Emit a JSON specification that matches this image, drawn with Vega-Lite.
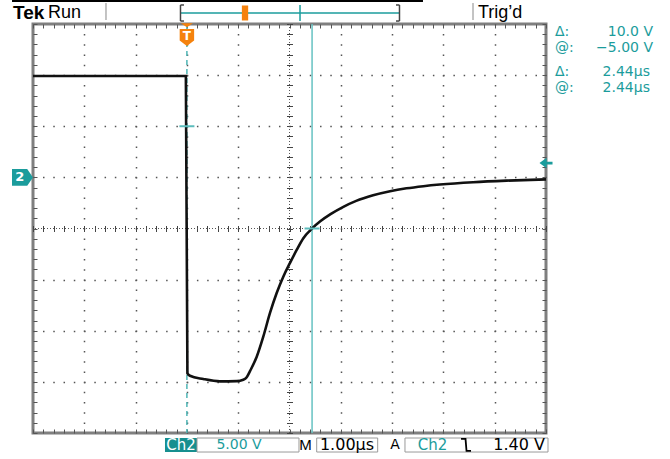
{
  "$schema": "https://vega.github.io/schema/vega-lite/v6.json",
  "width": 513,
  "height": 409,
  "autosize": {"type": "none"},
  "padding": {"left": 33, "top": 24, "right": 124, "bottom": 26},
  "background": "white",
  "config": {"view": {"stroke": "#7f7f7f", "strokeWidth": 3}},
  "data": {"values": [{}]},
  "datasets": {
    "trace": [
      {"t": -3.0, "v": 9.91}, {"t": -1.5, "v": 9.91}, {"t": -0.02, "v": 9.91},
      {"t": 0.01, "v": -19.16}, {"t": 0.06, "v": -19.4}, {"t": 0.32, "v": -19.72},
      {"t": 0.645, "v": -19.95}, {"t": 0.971, "v": -19.93}, {"t": 1.099, "v": -19.8},
      {"t": 1.166, "v": -19.55}, {"t": 1.23, "v": -18.95}, {"t": 1.361, "v": -17.54},
      {"t": 1.489, "v": -15.58}, {"t": 1.62, "v": -13.26}, {"t": 1.75, "v": -11.31},
      {"t": 1.879, "v": -9.71}, {"t": 2.01, "v": -8.37}, {"t": 2.14, "v": -7.1},
      {"t": 2.27, "v": -5.95}, {"t": 2.44, "v": -5.0}, {"t": 2.6, "v": -4.3},
      {"t": 2.8, "v": -3.6}, {"t": 3.05, "v": -2.88}, {"t": 3.3, "v": -2.3},
      {"t": 3.63, "v": -1.75}, {"t": 3.96, "v": -1.35}, {"t": 4.28, "v": -1.07},
      {"t": 4.61, "v": -0.86}, {"t": 4.93, "v": -0.7}, {"t": 5.58, "v": -0.47},
      {"t": 6.23, "v": -0.32}, {"t": 7.0, "v": -0.2}
    ],
    "cursors": [
      {"t": 0, "v": 5, "state": "inactive"},
      {"t": 2.44, "v": -5, "state": "active"}
    ],
    "trigger": [{"t": 0, "level": 1.4}]
  },
  "resolve": {"axis": {"x": "independent", "y": "independent"}},
  "layer": [
    {
      "mark": {"type": "rule", "color": "#555555", "strokeWidth": 1, "strokeDash": [1, 2]},
      "encoding": {"x": {"datum": 2, "type": "quantitative", "axis": null, "scale": {"domain": [-3, 7], "nice": false, "zero": false}}}
    },
    {
      "mark": {"type": "rule", "color": "#555555", "strokeWidth": 1, "strokeDash": [1, 2]},
      "encoding": {"y": {"datum": -5, "type": "quantitative", "axis": null, "scale": {"domain": [-25, 15], "nice": false, "zero": false}}}
    },
    {
      "data": {"name": "cursors"},
      "transform": [{"filter": "datum.state == 'inactive'"}],
      "mark": {"type": "rule", "color": "#4fb5b5", "strokeWidth": 1.5, "strokeDash": [5, 4]},
      "encoding": {"x": {"field": "t", "type": "quantitative", "axis": null}}
    },
    {
      "data": {"name": "cursors"},
      "transform": [{"filter": "datum.state == 'active'"}],
      "mark": {"type": "rule", "color": "#66c2c2", "strokeWidth": 1.5},
      "encoding": {"x": {"field": "t", "type": "quantitative", "axis": null}}
    },
    {
      "data": {"name": "trace"},
      "mark": {"type": "line", "color": "#111111", "strokeWidth": 2.6, "interpolate": "monotone"},
      "encoding": {
        "x": {"field": "t", "type": "quantitative", "scale": {"domain": [-3, 7], "nice": false, "zero": false},
          "axis": {"orient": "bottom", "title": null, "labels": false, "ticks": false, "domain": false, "grid": true,
            "values": [-2, -1, 0, 1, 3, 4, 5, 6], "gridColor": "#555555", "gridWidth": 1.5, "gridOpacity": 1,
            "gridDash": [1.5, 8.725], "gridDashOffset": 0.75}},
        "y": {"field": "v", "type": "quantitative", "scale": {"domain": [-25, 15], "nice": false, "zero": false},
          "axis": {"orient": "left", "title": null, "labels": false, "ticks": false, "domain": false, "grid": true,
            "values": [-20, -15, -10, 0, 5, 10], "gridColor": "#555555", "gridWidth": 1.5, "gridOpacity": 1,
            "gridDash": [1.5, 8.76], "gridDashOffset": 0.75}}
      }
    },
    {
      "data": {"name": "cursors"},
      "mark": {"type": "point", "shape": "M-1,0H1", "size": 225, "strokeWidth": 2, "color": "#5cbcbc", "opacity": 1},
      "encoding": {
        "x": {"field": "t", "type": "quantitative",
          "axis": {"orient": "bottom", "title": null, "labels": false, "domain": false, "grid": false, "ticks": true,
            "tickSize": -4, "tickColor": "#555555", "tickWidth": 1,
            "values": [-3,-2.8,-2.6,-2.4,-2.2,-2,-1.8,-1.6,-1.4,-1.2,-1,-0.8,-0.6,-0.4,-0.2,0,0.2,0.4,0.6,0.8,1,1.2,1.4,1.6,1.8,2,2.2,2.4,2.6,2.8,3,3.2,3.4,3.6,3.8,4,4.2,4.4,4.6,4.8,5,5.2,5.4,5.6,5.8,6,6.2,6.4,6.6,6.8,7]}},
        "y": {"field": "v", "type": "quantitative",
          "axis": {"orient": "left", "title": null, "labels": false, "domain": false, "grid": false, "ticks": true,
            "tickSize": -4, "tickColor": "#555555", "tickWidth": 1,
            "values": [-25,-24,-23,-22,-21,-20,-19,-18,-17,-16,-15,-14,-13,-12,-11,-10,-9,-8,-7,-6,-5,-4,-3,-2,-1,0,1,2,3,4,5,6,7,8,9,10,11,12,13,14,15]}}
      }
    },
    {
      "data": {"name": "trigger"},
      "mark": {"type": "point", "shape": "M-1,0L0.1,-0.8V0.8Z M0,-0.22H1V0.22H0Z", "size": 170, "filled": true, "color": "#1b9c9c", "opacity": 1, "dx": -6},
      "encoding": {
        "x": {"datum": 7, "type": "quantitative",
          "axis": {"orient": "top", "title": null, "labels": false, "domain": false, "grid": false, "ticks": true,
            "tickSize": -4, "tickColor": "#555555", "tickWidth": 1,
            "values": [-3,-2.8,-2.6,-2.4,-2.2,-2,-1.8,-1.6,-1.4,-1.2,-1,-0.8,-0.6,-0.4,-0.2,0,0.2,0.4,0.6,0.8,1,1.2,1.4,1.6,1.8,2,2.2,2.4,2.6,2.8,3,3.2,3.4,3.6,3.8,4,4.2,4.4,4.6,4.8,5,5.2,5.4,5.6,5.8,6,6.2,6.4,6.6,6.8,7]}},
        "y": {"field": "level", "type": "quantitative",
          "axis": {"orient": "right", "title": null, "labels": false, "domain": false, "grid": false, "ticks": true,
            "tickSize": -4, "tickColor": "#555555", "tickWidth": 1,
            "values": [-25,-24,-23,-22,-21,-20,-19,-18,-17,-16,-15,-14,-13,-12,-11,-10,-9,-8,-7,-6,-5,-4,-3,-2,-1,0,1,2,3,4,5,6,7,8,9,10,11,12,13,14,15]}}
      }
    },
    {
      "mark": {"type": "point", "shape": "M-1,-0.8H0.45L1,0L0.45,0.8H-1Z", "size": 441, "filled": true, "color": "#1b9c9c", "opacity": 1},
      "encoding": {
        "x": {"datum": -3.205, "type": "quantitative",
          "axis": {"orient": "bottom", "offset": -201.5, "title": null, "labels": false, "domain": false, "grid": false, "ticks": true,
            "tickSize": -6, "tickColor": "#444444", "tickWidth": 1,
            "values": [-3,-2.8,-2.6,-2.4,-2.2,-2,-1.8,-1.6,-1.4,-1.2,-1,-0.8,-0.6,-0.4,-0.2,0,0.2,0.4,0.6,0.8,1,1.2,1.4,1.6,1.8,2,2.2,2.4,2.6,2.8,3,3.2,3.4,3.6,3.8,4,4.2,4.4,4.6,4.8,5,5.2,5.4,5.6,5.8,6,6.2,6.4,6.6,6.8,7]}},
        "y": {"datum": 0, "type": "quantitative",
          "axis": {"orient": "left", "offset": -253.5, "title": null, "labels": false, "domain": false, "grid": false, "ticks": true,
            "tickSize": -6, "tickColor": "#444444", "tickWidth": 1,
            "values": [-25,-24,-23,-22,-21,-20,-19,-18,-17,-16,-15,-14,-13,-12,-11,-10,-9,-8,-7,-6,-5,-4,-3,-2,-1,0,1,2,3,4,5,6,7,8,9,10,11,12,13,14,15]}}
      }
    },
    {
      "mark": {"type": "text", "text": "2", "font": "DejaVu Sans", "fontSize": 13, "fontWeight": "bold", "color": "white", "align": "center", "baseline": "middle"},
      "encoding": {"x": {"datum": -3.26, "axis": null}, "y": {"datum": 0, "axis": null}}
    },
    {
      "data": {"name": "trigger"},
      "mark": {"type": "point", "shape": "M-1,-0.35H1L0,0.35Z", "size": 144, "filled": true, "color": "#f5820d", "opacity": 1},
      "encoding": {"x": {"field": "t", "type": "quantitative", "axis": null}, "y": {"datum": 14.88, "axis": null}}
    },
    {
      "data": {"name": "trigger"},
      "mark": {"type": "point", "shape": "M-0.85,-1H0.85V0.35L0,1L-0.85,0.35Z", "size": 289, "filled": true, "color": "#f5820d", "opacity": 1},
      "encoding": {"x": {"field": "t", "type": "quantitative", "axis": null}, "y": {"datum": 13.68, "axis": null}}
    },
    {
      "data": {"name": "trigger"},
      "mark": {"type": "text", "text": "T", "font": "DejaVu Sans", "fontSize": 12, "fontWeight": "bold", "color": "white", "align": "center", "baseline": "middle", "dy": -1},
      "encoding": {"x": {"field": "t", "type": "quantitative", "axis": null}, "y": {"datum": 13.68, "axis": null}}
    },
    {
      "mark": {"type": "rule", "color": "#000000", "strokeWidth": 2},
      "encoding": {"x": {"datum": -3.409, "axis": null}, "x2": {"datum": 4.602}, "y": {"datum": 17.25, "axis": null}}
    },
    {
      "mark": {"type": "text", "text": "Tek", "font": "Liberation Sans", "fontSize": 19, "fontWeight": "bold", "color": "black", "align": "left", "baseline": "middle"},
      "encoding": {"x": {"datum": -3.39, "axis": null}, "y": {"datum": 16.1, "axis": null}}
    },
    {
      "mark": {"type": "text", "text": "Run", "font": "Liberation Sans", "fontSize": 18, "color": "black", "align": "left", "baseline": "middle"},
      "encoding": {"x": {"datum": -2.708, "axis": null}, "y": {"datum": 16.1, "axis": null}}
    },
    {
      "mark": {"type": "rule", "color": "#888888", "strokeWidth": 1},
      "encoding": {"x": {"datum": -1.577, "axis": null}, "y": {"datum": 17.05, "axis": null}, "y2": {"datum": 15.39}}
    },
    {
      "mark": {"type": "rule", "color": "#1b9c9c", "strokeWidth": 1.5},
      "encoding": {"x": {"datum": -0.125, "axis": null}, "x2": {"datum": 4.144}, "y": {"datum": 16.076, "axis": null}}
    },
    {
      "mark": {"type": "rule", "color": "#444444", "strokeWidth": 1.5},
      "encoding": {"x": {"datum": -0.125, "axis": null}, "y": {"datum": 16.86, "axis": null}, "y2": {"datum": 15.29}}
    },
    {
      "mark": {"type": "rule", "color": "#444444", "strokeWidth": 1.5},
      "encoding": {"x": {"datum": -0.125, "axis": null}, "x2": {"datum": -0.057}, "y": {"datum": 16.86, "axis": null}}
    },
    {
      "mark": {"type": "rule", "color": "#444444", "strokeWidth": 1.5},
      "encoding": {"x": {"datum": -0.125, "axis": null}, "x2": {"datum": -0.057}, "y": {"datum": 15.29, "axis": null}}
    },
    {
      "mark": {"type": "rule", "color": "#444444", "strokeWidth": 1.5},
      "encoding": {"x": {"datum": 4.144, "axis": null}, "y": {"datum": 16.86, "axis": null}, "y2": {"datum": 15.29}}
    },
    {
      "mark": {"type": "rule", "color": "#444444", "strokeWidth": 1.5},
      "encoding": {"x": {"datum": 4.076, "axis": null}, "x2": {"datum": 4.144}, "y": {"datum": 16.86, "axis": null}}
    },
    {
      "mark": {"type": "rule", "color": "#444444", "strokeWidth": 1.5},
      "encoding": {"x": {"datum": 4.076, "axis": null}, "x2": {"datum": 4.144}, "y": {"datum": 15.29, "axis": null}}
    },
    {
      "mark": {"type": "rule", "color": "#1b9c9c", "strokeWidth": 1.5},
      "encoding": {"x": {"datum": 2.205, "axis": null}, "y": {"datum": 16.86, "axis": null}, "y2": {"datum": 15.29}}
    },
    {
      "mark": {"type": "point", "shape": "M-0.42,-1H0.42V1H-0.42Z", "size": 225, "filled": true, "color": "#f5820d", "opacity": 1},
      "encoding": {"x": {"datum": 1.133, "axis": null}, "y": {"datum": 16.076, "axis": null}}
    },
    {
      "mark": {"type": "rule", "color": "#888888", "strokeWidth": 1},
      "encoding": {"x": {"datum": 5.577, "axis": null}, "y": {"datum": 17.05, "axis": null}, "y2": {"datum": 15.39}}
    },
    {
      "mark": {"type": "text", "text": "Trig’d", "font": "Liberation Sans", "fontSize": 18, "color": "black", "align": "left", "baseline": "middle"},
      "encoding": {"x": {"datum": 5.674, "axis": null}, "y": {"datum": 16.1, "axis": null}}
    },
    {
      "mark": {"type": "text", "text": "Δ:", "font": "DejaVu Sans", "fontSize": 14, "color": "#1b9c9c", "align": "left", "baseline": "middle"},
      "encoding": {"x": {"datum": 7.175, "axis": null}, "y": {"datum": 14.22, "axis": null}}
    },
    {
      "mark": {"type": "text", "text": "10.0 V", "font": "DejaVu Sans", "fontSize": 14, "color": "#1b9c9c", "align": "right", "baseline": "middle"},
      "encoding": {"x": {"datum": 9.086, "axis": null}, "y": {"datum": 14.22, "axis": null}}
    },
    {
      "mark": {"type": "text", "text": "@:", "font": "DejaVu Sans", "fontSize": 14, "color": "#1b9c9c", "align": "left", "baseline": "middle"},
      "encoding": {"x": {"datum": 7.175, "axis": null}, "y": {"datum": 12.65, "axis": null}}
    },
    {
      "mark": {"type": "text", "text": "−5.00 V", "font": "DejaVu Sans", "fontSize": 14, "color": "#1b9c9c", "align": "right", "baseline": "middle"},
      "encoding": {"x": {"datum": 9.086, "axis": null}, "y": {"datum": 12.65, "axis": null}}
    },
    {
      "mark": {"type": "text", "text": "Δ:", "font": "DejaVu Sans", "fontSize": 14, "color": "#1b9c9c", "align": "left", "baseline": "middle"},
      "encoding": {"x": {"datum": 7.175, "axis": null}, "y": {"datum": 10.31, "axis": null}}
    },
    {
      "mark": {"type": "text", "text": "2.44µs", "font": "DejaVu Sans", "fontSize": 14, "color": "#1b9c9c", "align": "right", "baseline": "middle"},
      "encoding": {"x": {"datum": 9.027, "axis": null}, "y": {"datum": 10.31, "axis": null}}
    },
    {
      "mark": {"type": "text", "text": "@:", "font": "DejaVu Sans", "fontSize": 14, "color": "#1b9c9c", "align": "left", "baseline": "middle"},
      "encoding": {"x": {"datum": 7.175, "axis": null}, "y": {"datum": 8.74, "axis": null}}
    },
    {
      "mark": {"type": "text", "text": "2.44µs", "font": "DejaVu Sans", "fontSize": 14, "color": "#1b9c9c", "align": "right", "baseline": "middle"},
      "encoding": {"x": {"datum": 9.027, "axis": null}, "y": {"datum": 8.74, "axis": null}}
    },
    {
      "mark": {"type": "rect", "color": "#178f8f"},
      "encoding": {"x": {"datum": -0.427, "axis": null}, "x2": {"datum": 0.197}, "y": {"datum": -25.49, "axis": null}, "y2": {"datum": -26.86}}
    },
    {
      "mark": {"type": "text", "text": "Ch2", "font": "DejaVu Sans", "fontSize": 15, "color": "white", "align": "center", "baseline": "middle"},
      "encoding": {"x": {"datum": -0.115, "axis": null}, "y": {"datum": -26.17, "axis": null}}
    },
    {
      "mark": {"type": "rect", "fill": "white", "stroke": "#9a9a9a", "strokeWidth": 1},
      "encoding": {"x": {"datum": 0.197, "axis": null}, "x2": {"datum": 2.185}, "y": {"datum": -25.49, "axis": null}, "y2": {"datum": -26.86}}
    },
    {
      "mark": {"type": "text", "text": "5.00 V", "font": "DejaVu Sans", "fontSize": 14, "color": "#1b9c9c", "align": "center", "baseline": "middle"},
      "encoding": {"x": {"datum": 1.016, "axis": null}, "y": {"datum": -26.17, "axis": null}}
    },
    {
      "mark": {"type": "text", "text": "M", "font": "Liberation Sans", "fontSize": 15, "color": "black", "align": "center", "baseline": "middle"},
      "encoding": {"x": {"datum": 2.312, "axis": null}, "y": {"datum": -26.17, "axis": null}}
    },
    {
      "mark": {"type": "rect", "fill": "white", "stroke": "#9a9a9a", "strokeWidth": 1},
      "encoding": {"x": {"datum": 2.53, "axis": null}, "x2": {"datum": 3.719}, "y": {"datum": -25.49, "axis": null}, "y2": {"datum": -26.86}}
    },
    {
      "mark": {"type": "text", "text": "1.00µs", "font": "DejaVu Sans", "fontSize": 16, "color": "black", "align": "center", "baseline": "middle"},
      "encoding": {"x": {"datum": 3.121, "axis": null}, "y": {"datum": -26.17, "axis": null}}
    },
    {
      "mark": {"type": "text", "text": "A", "font": "DejaVu Sans", "fontSize": 14, "color": "black", "align": "center", "baseline": "middle"},
      "encoding": {"x": {"datum": 4.057, "axis": null}, "y": {"datum": -26.17, "axis": null}}
    },
    {
      "mark": {"type": "rect", "fill": "white", "stroke": "#9a9a9a", "strokeWidth": 1},
      "encoding": {"x": {"datum": 4.251, "axis": null}, "x2": {"datum": 7.039}, "y": {"datum": -25.49, "axis": null}, "y2": {"datum": -26.86}}
    },
    {
      "mark": {"type": "text", "text": "Ch2", "font": "DejaVu Sans", "fontSize": 15, "color": "#1b9c9c", "align": "center", "baseline": "middle"},
      "encoding": {"x": {"datum": 4.788, "axis": null}, "y": {"datum": -26.17, "axis": null}}
    },
    {
      "mark": {"type": "point", "shape": "M-0.5,-0.6H-0.05L0.05,0.6H0.5", "size": 400, "filled": false, "color": "black", "strokeWidth": 1.8, "opacity": 1},
      "encoding": {"x": {"datum": 5.441, "axis": null}, "y": {"datum": -26.17, "axis": null}}
    },
    {
      "mark": {"type": "text", "text": "1.40 V", "font": "DejaVu Sans", "fontSize": 16, "color": "black", "align": "right", "baseline": "middle"},
      "encoding": {"x": {"datum": 6.98, "axis": null}, "y": {"datum": -26.17, "axis": null}}
    }
  ]
}
